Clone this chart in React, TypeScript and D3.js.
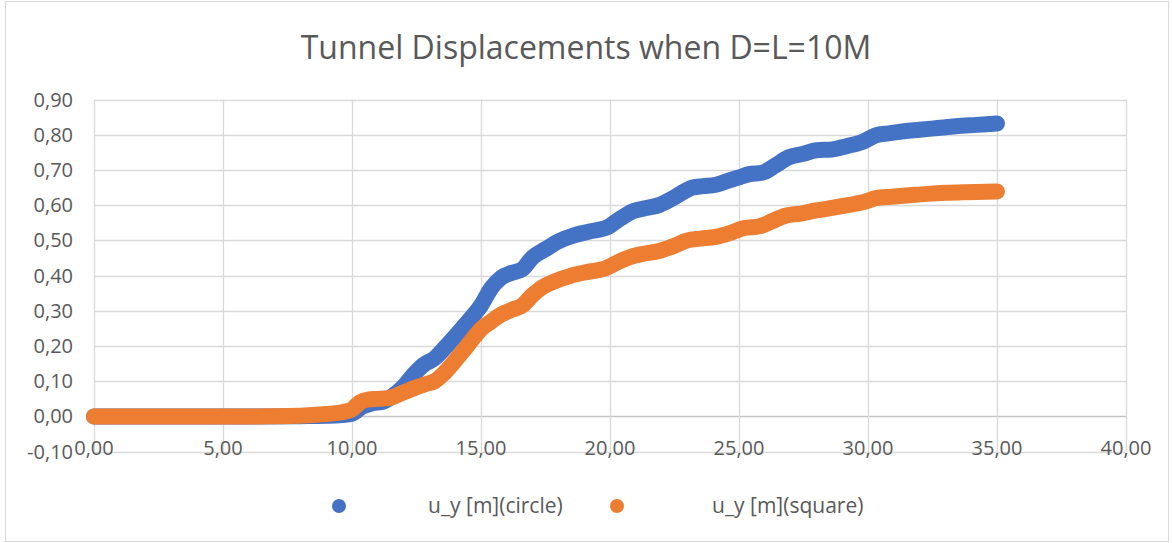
import React from "react";
import * as d3 from "d3";

const xTicks = [0, 5, 10, 15, 20, 25, 30, 35, 40];
const yTicks = [-0.1, 0, 0.1, 0.2, 0.3, 0.4, 0.5, 0.6, 0.7, 0.8, 0.9];

const circleX = [0, 2, 4, 6, 8, 9, 9.6, 10.0, 10.4, 10.8, 11.2, 11.6, 12.0, 12.4, 12.8, 13.2, 13.6, 14.0, 14.5, 15.0, 15.4, 15.8, 16.2, 16.6, 17.0, 17.5, 18.0, 18.6, 19.2, 19.9, 20.4, 20.9, 21.4, 21.9, 22.4, 22.9, 23.2, 23.6, 24.1, 24.6, 25.0, 25.4, 25.9, 26.4, 26.9, 27.5, 28.0, 28.6, 29.2, 29.8, 30.3, 30.8, 31.4, 32.0, 32.7, 33.4, 34.2, 35.0];
const circleY = [0, 0, 0, 0, 0.001, 0.002, 0.004, 0.008, 0.028, 0.038, 0.042, 0.06, 0.085, 0.12, 0.148, 0.165, 0.195, 0.228, 0.27, 0.315, 0.365, 0.395, 0.408, 0.418, 0.452, 0.475, 0.497, 0.514, 0.525, 0.537, 0.562, 0.583, 0.592, 0.6, 0.618, 0.64, 0.65, 0.654, 0.658, 0.67, 0.679, 0.688, 0.692, 0.712, 0.735, 0.746, 0.756, 0.758, 0.768, 0.78, 0.798, 0.804, 0.81, 0.814, 0.819, 0.824, 0.828, 0.832];

const squareX = [0, 2, 4, 6, 8, 8.8, 9.6, 10.0, 10.3, 10.6, 11.0, 11.4, 11.9, 12.4, 12.9, 13.2, 13.5, 13.9, 14.3, 14.7, 15.0, 15.4, 15.8, 16.2, 16.6, 17.0, 17.4, 17.9, 18.5, 19.1, 19.8, 20.3, 20.8, 21.3, 21.9, 22.5, 23.0, 23.5, 24.1, 24.7, 25.2, 25.8, 26.3, 26.8, 27.4, 28.0, 28.6, 29.2, 29.8, 30.3, 30.9, 31.6, 32.3, 33.0, 33.8, 35.0];
const squareY = [0, 0, 0, 0, 0.002, 0.006, 0.012, 0.02, 0.04, 0.048, 0.05, 0.052, 0.065, 0.08, 0.093, 0.1, 0.118, 0.15, 0.185, 0.222, 0.248, 0.27, 0.29, 0.303, 0.315, 0.345, 0.368, 0.385, 0.4, 0.41, 0.42, 0.438, 0.453, 0.462, 0.47, 0.485, 0.5, 0.505, 0.51, 0.522, 0.535, 0.54, 0.555, 0.57, 0.576, 0.585, 0.592, 0.6, 0.608, 0.62, 0.624, 0.628, 0.632, 0.635, 0.637, 0.639];

const seriesNames = ["u_y [m](circle)", "u_y [m](square)"];
const title = "Tunnel Displacements when D=L=10M";

const W = 1172;
const H = 543;
const FONT = "'Open Sans', 'Noto Sans', sans-serif";
const TEXT = "#595959";
const GRID = "#d9d9d9";
const COLORS = ["#4472C4", "#ED7D31"];

const locale = d3.formatLocale({ decimal: ",", thousands: ".", grouping: [3], currency: ["", ""], minus: "-" });
const fmt = locale.format(".2f");

export default function App() {
  const x = d3.scaleLinear().domain([0, 40]).range([94, 1126]);
  const y = d3.scaleLinear().domain([-0.1, 0.9]).range([451.7, 99.5]);
  const line = d3
    .line<[number, number]>()
    .x((d) => x(d[0]))
    .y((d) => y(d[1]))
    .curve(d3.curveMonotoneX);

  const series = [
    circleX.map((v, i) => [v, circleY[i]] as [number, number]),
    squareX.map((v, i) => [v, squareY[i]] as [number, number]),
  ];

  const legend = [
    { dot: 339, text: 428 },
    { dot: 617, text: 712 },
  ];

  return (
    <svg
      width={W}
      height={H}
      style={{ position: "absolute", left: 0, top: 0, background: "#fff" }}
      fontFamily={FONT}
    >
      <rect x={5.5} y={1.5} width={1163} height={540} fill="#fff" stroke={GRID} strokeWidth={1} />
      <text x={586} y={59} textAnchor="middle" fontSize={32} fill={TEXT}>
        {title}
      </text>
      {yTicks.map((t) => (
        <line key={"gy" + t} x1={x(0)} x2={x(40)} y1={Math.round(y(t)) + 0.5} y2={Math.round(y(t)) + 0.5} stroke={t === 0 ? "#c4c4c4" : GRID} strokeWidth={t === 0 ? 1.5 : 1.3} />
      ))}
      {xTicks.map((t) => (
        <line key={"gx" + t} x1={Math.round(x(t)) + 0.5} x2={Math.round(x(t)) + 0.5} y1={y(0.9)} y2={y(-0.1)} stroke={GRID} strokeWidth={1.3} />
      ))}
      {yTicks.map((t) => (
        <text key={"ly" + t} x={73} y={y(t)} dy="0.35em" textAnchor="end" fontSize={20} fill={TEXT}>
          {fmt(t)}
        </text>
      ))}
      {xTicks.map((t) => (
        <text key={"lx" + t} x={x(t)} y={448} dy="0.35em" textAnchor="middle" fontSize={20} fill={TEXT}>
          {fmt(t)}
        </text>
      ))}
      {series.map((s, i) => (
        <path key={"s" + i} d={line(s) || ""} fill="none" stroke={COLORS[i]} strokeWidth={16} strokeLinecap="round" strokeLinejoin="round" />
      ))}
      {legend.map((l, i) => (
        <g key={"lg" + i}>
          <circle cx={l.dot} cy={506} r={7} fill={COLORS[i]} />
          <text x={l.text} y={506} dy="0.35em" fontSize={21} fill={TEXT}>
            {seriesNames[i]}
          </text>
        </g>
      ))}
    </svg>
  );
}
